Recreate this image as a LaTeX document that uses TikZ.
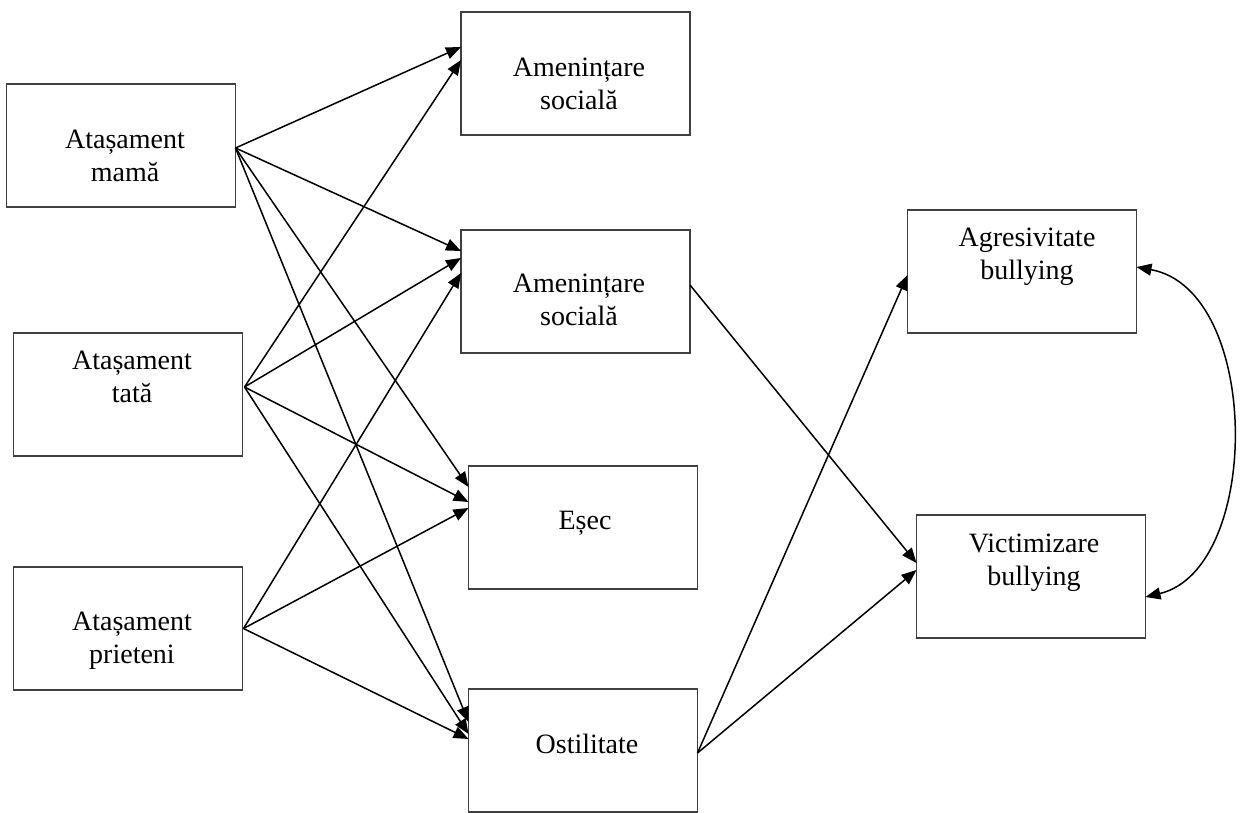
\documentclass[tikz,border=0pt]{standalone}
\usepackage{fontspec}
\setmainfont{Liberation Serif}
\usetikzlibrary{arrows.meta}
\tikzset{
  box/.style={draw=black!75, line width=1.6pt, minimum width=229pt, minimum height=123pt, inner sep=0pt, outer sep=0pt},
  lbl/.style={align=center, inner sep=0pt, font=\fontsize{28}{33}\selectfont},
  arr/.style={line width=1.5pt, -{Triangle[length=15pt,width=12pt]}},
  darr/.style={line width=1.5pt, {Triangle[length=15pt,width=12pt]}-{Triangle[length=15pt,width=12pt]}}
}
\begin{document}
\begin{tikzpicture}[x=1pt,y=-1pt]
\useasboundingbox (0,0) rectangle (1240,813);
% boxes
\node[box] (mama) at (121,145.5) {};
\node[box] (tata) at (128,394.5) {};
\node[box] (prieteni) at (128,628.5) {};
\node[box] (am1) at (575.5,73.5) {};
\node[box] (am2) at (575.5,291.5) {};
\node[box] (esec) at (583,527.5) {};
\node[box] (ost) at (583,750.5) {};
\node[box] (agr) at (1022,271.5) {};
\node[box] (vic) at (1031,576.5) {};
% labels
\node[lbl] (mamaT) at (125,155.5) {Atașament\\mamă};
\node[lbl] (tataT) at (132,377) {Atașament\\tată};
\node[lbl] (prieteniT) at (132,641) {Atașament\\prieteni};
\node[lbl] (am1T) at (579,84) {Amenințare\\socială};
\node[lbl] (am2T) at (579,300) {Amenințare\\socială};
\node[lbl] (esecT) at (585,523.5) {Eșec};
\node[lbl] (ostT) at (587,743.5) {Ostilitate};
\node[lbl] (agrT) at (1027,256.5) {Agresivitate\\bullying};
\node[lbl] (vicT) at (1034,563) {Victimizare\\bullying};
% sources
\coordinate (sM) at ([yshift=-2.5pt]mama.east);
\coordinate (sT) at ([yshift=7.5pt,xshift=2pt]tata.east);
\coordinate (sP) at ([xshift=1pt]prieteni.east);
% mama
\draw[arr] (sM) -- ([yshift=-35pt]am1.north west);
\draw[arr] (sM) -- ([yshift=-21pt]am2.north west);
\draw[arr] (sM) -- ([yshift=-21pt]esec.north west);
\draw[arr] (sM) -- ([yshift=-33pt]ost.north west);
% tata
\draw[arr] (sT) -- ([yshift=-48pt]am1.north west);
\draw[arr] (sT) -- ([yshift=-28pt]am2.north west);
\draw[arr] (sT) -- ([yshift=-36pt]esec.north west);
\draw[arr] (sT) -- ([yshift=-45pt]ost.north west);
% prieteni
\draw[arr] (sP) -- ([yshift=-43pt]am2.north west);
\draw[arr] (sP) -- ([yshift=-42pt]esec.north west);
\draw[arr] (sP) -- ([yshift=-50pt]ost.north west);
% right side
\draw[arr] ([yshift=6.5pt]am2.east) -- ([yshift=-48pt]vic.north west);
\draw[arr] ([yshift=-2.5pt]ost.east) -- ([yshift=-65pt]agr.north west);
\draw[arr] ([yshift=-2.5pt]ost.east) -- ([yshift=-55pt]vic.north west);
\draw[darr] ([yshift=4.5pt]agr.east) .. controls (1262,290) and (1262,569) .. ([yshift=-20.5pt]vic.east);
\end{tikzpicture}
\end{document}
